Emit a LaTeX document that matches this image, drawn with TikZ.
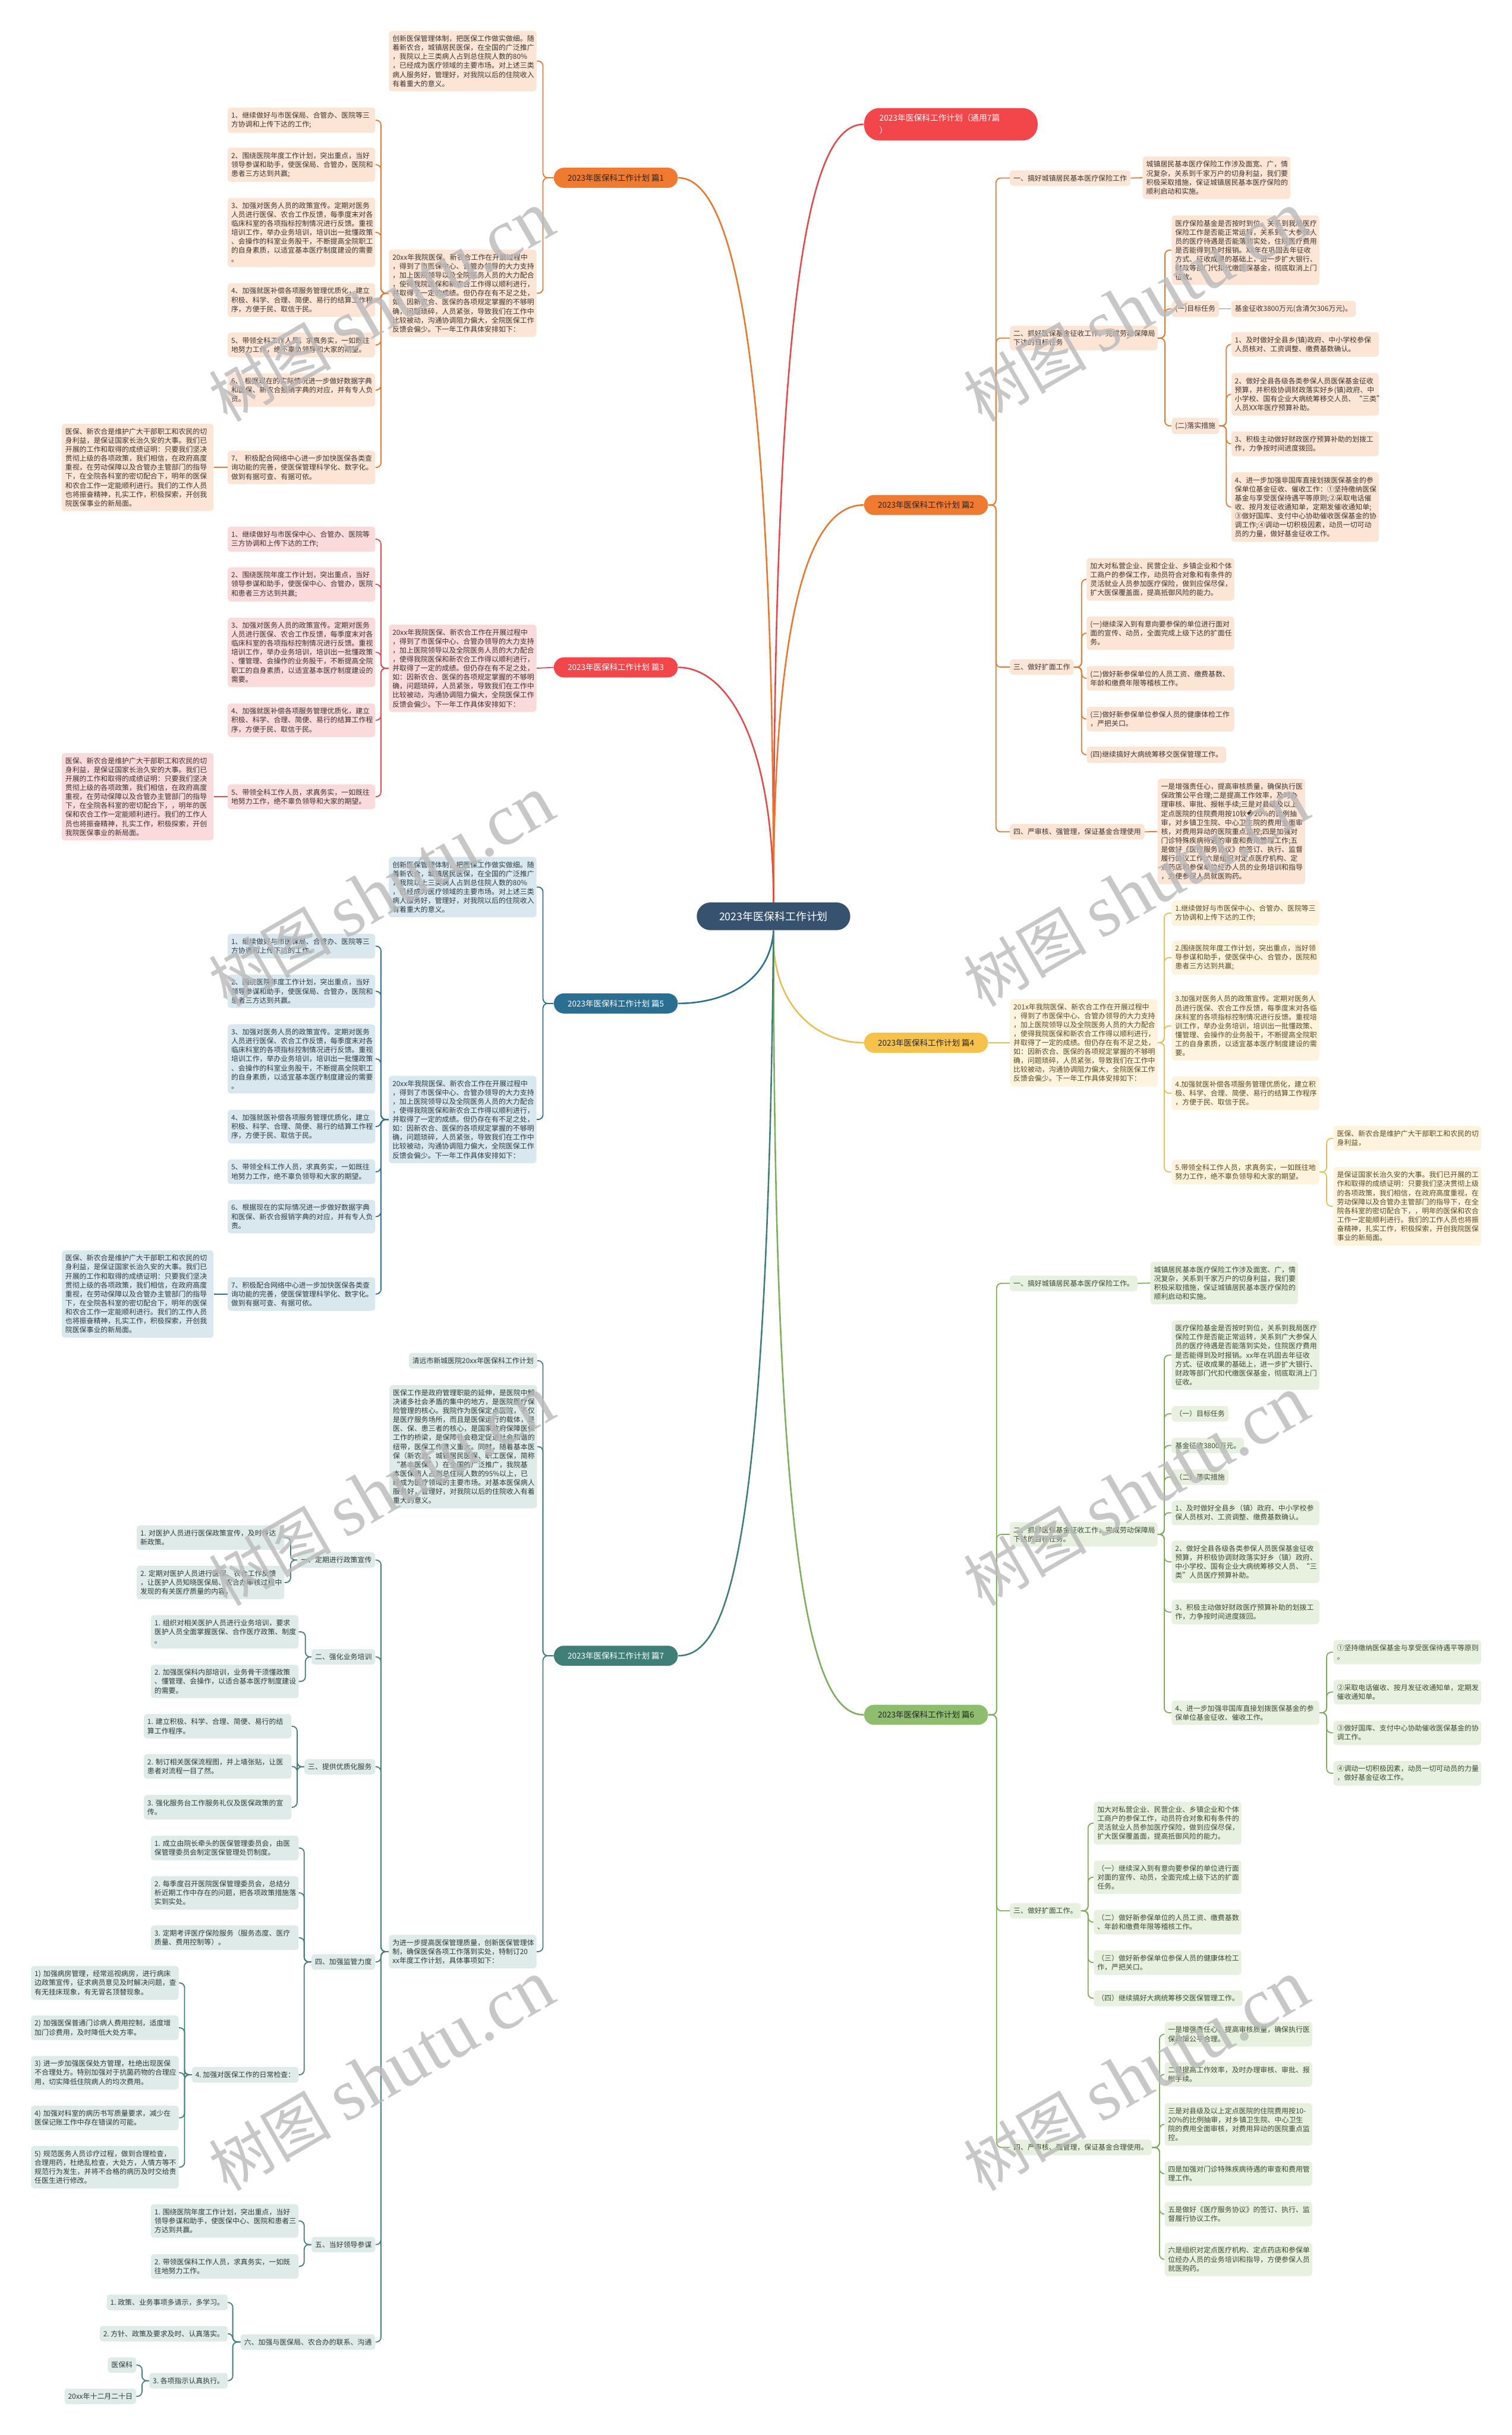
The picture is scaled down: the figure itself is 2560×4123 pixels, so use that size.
\documentclass[tikz,border=0pt]{standalone}
\usepackage{fontspec}
\setmainfont{Noto Sans CJK SC}
\newfontfamily\wmlat{Liberation Serif}
\newfontfamily\dvs{DejaVu Sans}
\newcommand\lff{\fontsize{6pt}{7.6pt}\selectfont}
\newcommand\brf{\fontsize{6.8pt}{8pt}\selectfont}
\newcommand\tyf{\fontsize{6.9pt}{10.5pt}\selectfont}
\newcommand\cenf{\fontsize{9pt}{10pt}\selectfont}
\definecolor{cen}{HTML}{37526F}
\definecolor{oM}{HTML}{EF7A30}
\definecolor{oLn}{HTML}{E8772C}
\definecolor{oLf}{HTML}{FDE5D6}
\definecolor{oTx}{HTML}{3A3530}
\definecolor{rM}{HTML}{F2464B}
\definecolor{rLn}{HTML}{E5484B}
\definecolor{rLf}{HTML}{FBDADB}
\definecolor{rTx}{HTML}{3A3232}
\definecolor{bM}{HTML}{2A6E92}
\definecolor{bLf}{HTML}{D9E7EF}
\definecolor{bTx}{HTML}{2F3A42}
\definecolor{tM}{HTML}{3F7F78}
\definecolor{tLf}{HTML}{DEEBE8}
\definecolor{tTx}{HTML}{2F3A38}
\definecolor{yM}{HTML}{F6C24B}
\definecolor{yLn}{HTML}{E9BE52}
\definecolor{yLf}{HTML}{FEF3DC}
\definecolor{yTx}{HTML}{5A4A22}
\definecolor{gM}{HTML}{8EBE6D}
\definecolor{gLn}{HTML}{7DAE5B}
\definecolor{gLf}{HTML}{E8F1E0}
\definecolor{gTx}{HTML}{3B4A30}
\newcommand\txtA{创新医保管理体制，把医保工作做实做细。随\\着新农合，城镇居民医保，在全国的广泛推广\\，我院以上三类病人占到总住院人数的80\%\\，已经成为医疗领域的主要市场。对上述三类\\病人服务好，管理好，对我院以后的住院收入\\有着重大的意义。}
\newcommand\txtB{20xx年我院医保、新农合工作在开展过程中\\，得到了市医保中心、合管办领导的大力支持\\，加上医院领导以及全院医务人员的大力配合\\，使得我院医保和新农合工作得以顺利进行，\\并取得了一定的成绩。但仍存在有不足之处，\\如：因新农合、医保的各项规定掌握的不够明\\确，问题琐碎，人员紧张，导致我们在工作中\\比较被动，沟通协调阻力偏大，全院医保工作\\反馈会偏少。下一年工作具体安排如下：}
\newcommand\txtD{医保、新农合是维护广大干部职工和农民的切\\身利益，是保证国家长治久安的大事。我们已\\开展的工作和取得的成绩证明：只要我们坚决\\贯彻上级的各项政策，我们相信，在政府高度\\重视，在劳动保障以及合管办主管部门的指导\\下，在全院各科室的密切配合下，明年的医保\\和农合工作一定能顺利进行。我们的工作人员\\也将振奋精神，扎实工作，积极探索，开创我\\院医保事业的新局面。}
\tikzset{
  leafbase/.style={rounded corners=2.5pt, inner xsep=3pt, inner ysep=3.75pt, align=left, font=\lff},
  oL/.style={leafbase, fill=oLf, text=oTx},
  rL/.style={leafbase, fill=rLf, text=rTx},
  bL/.style={leafbase, fill=bLf, text=bTx},
  tL/.style={leafbase, fill=tLf, text=tTx},
  yL/.style={leafbase, fill=yLf, text=yTx},
  gL/.style={leafbase, fill=gLf, text=gTx},
  tw/.style={text width=119pt},
  twd/.style={text width=122.5pt},
  mainbr/.style={rounded corners=8.5pt, minimum height=17pt, minimum width=105pt, inner xsep=6pt, font=\brf},
  oC/.style={draw=oLn, line width=0.9pt, rounded corners=4pt},
  rC/.style={draw=rLn, line width=0.9pt, rounded corners=4pt},
  bC/.style={draw=bM, line width=0.9pt, rounded corners=4pt},
  tC/.style={draw=tM, line width=0.9pt, rounded corners=4pt},
  yC/.style={draw=yLn, line width=0.9pt, rounded corners=4pt},
  gC/.style={draw=gLn, line width=0.9pt, rounded corners=4pt},
  thick line/.style={line width=1.3pt},
  wm/.style={text=gray!55, opacity=0.8, rotate=30, inner sep=0pt}
}
\begin{document}
\begin{tikzpicture}[x=0.5pt,y=-0.5pt]
\useasboundingbox (0,0) rectangle (2560,4123);
\fill[white] (0,0) rectangle (2560,4123);

% ---------------- central
\node[fill=cen, text=white, rounded corners=11.75pt, minimum width=130pt, minimum height=23.5pt, font=\cenf] (C) at (1310,1551.5) {2023年医保科工作计划};

% ---------------- branch heads
\node[mainbr, fill=oM, text=black!85] (P1) at (1043,301) {2023年医保科工作计划 篇1};
\node[mainbr, fill=rM, text=white] (P3) at (1043,1130) {2023年医保科工作计划 篇3};
\node[mainbr, fill=bM, text=white] (P5) at (1043,1699) {2023年医保科工作计划 篇5};
\node[mainbr, fill=tM, text=white] (P7) at (1043,2803.5) {2023年医保科工作计划 篇7};
\node[fill=rM, text=white, rounded corners=13pt, minimum height=27.5pt, inner xsep=13pt, inner ysep=4pt, text width=121pt, align=left, font=\tyf, anchor=west] (T) at (1463,210.5) {2023年医保科工作计划（通用7篇\\）};
\node[mainbr, fill=oM, text=black!85, anchor=west] (P2) at (1463,855) {2023年医保科工作计划 篇2};
\node[mainbr, fill=yM, text=black!85, anchor=west] (P4) at (1463,1765.5) {2023年医保科工作计划 篇4};
\node[mainbr, fill=gM, text=black!85, anchor=west] (P6) at (1463,2903.5) {2023年医保科工作计划 篇6};

% ---------------- 篇1
\node[oL,tw,anchor=east] (a1) at (909,103.5) {\txtA};
\node[oL,tw,anchor=east] (b1) at (909,496.5) {\txtB};
\node[oL,tw,anchor=east] (c11) at (636,203.5) {1、继续做好与市医保局、合管办、医院等三\\方协调和上传下达的工作;};
\node[oL,tw,anchor=east] (c12) at (636,279) {2、围绕医院年度工作计划，突出重点，当好\\领导参谋和助手，使医保局、合管办，医院和\\患者三方达到共赢;};
\node[oL,tw,anchor=east] (c13) at (636,393.5) {3、加强对医务人员的政策宣传。定期对医务\\人员进行医保、农合工作反馈，每季度末对各\\临床科室的各项指标控制情况进行反馈。重视\\培训工作，举办业务培训，培训出一批懂政策\\、会操作的科室业务股干，不断提高全院职工\\的自身素质，以适宜基本医疗制度建设的需要\\。};
\node[oL,tw,anchor=east] (c14) at (636,508) {4、加强就医补偿各项服务管理优质化，建立\\积极、科学、合理、简便、易行的结算工作程\\序，方便于民、取信于民。};
\node[oL,tw,anchor=east] (c15) at (636,584) {5、带领全科工作人员，求真务实，一如既往\\地努力工作，绝不辜负领导和大家的期望。};
\node[oL,tw,anchor=east] (c16) at (636,660.5) {6、~根据现在的实际情况进一步做好数据字典\\和医保、新农合报销字典的对应，并有专人负\\责。};
\node[oL,tw,anchor=east] (c17) at (636,791.5) {7、~积极配合网络中心进一步加快医保各类查\\询功能的完善，使医保管理科学化、数字化。\\做到有据可查、有据可依。};
\node[oL,twd,anchor=east] (d1) at (362,791.5) {\txtD};

% ---------------- 篇3
\node[rL,tw,anchor=east] (b3) at (909,1131.5) {\txtB};
\node[rL,tw,anchor=east] (c31) at (636,913) {1、继续做好与市医保中心、合管办、医院等\\三方协调和上传下达的工作;};
\node[rL,tw,anchor=east] (c32) at (636,989.5) {2、围绕医院年度工作计划，突出重点，当好\\领导参谋和助手，使医保中心、合管办，医院\\和患者三方达到共赢;};
\node[rL,tw,anchor=east] (c33) at (636,1104.5) {3、加强对医务人员的政策宣传。定期对医务\\人员进行医保、农合工作反馈，每季度末对各\\临床科室的各项指标控制情况进行反馈。重视\\培训工作，举办业务培训，培训出一批懂政策\\、懂管理、会操作的业务股干，不断提高全院\\职工的自身素质，以适宜基本医疗制度建设的\\需要。};
\node[rL,tw,anchor=east] (c34) at (636,1219.5) {4、加强就医补偿各项服务管理优质化，建立\\积极、科学、合理、简便、易行的结算工作程\\序，方便于民、取信于民。};
\node[rL,tw,anchor=east] (c35) at (636,1349) {5、带领全科工作人员，求真务实，一如既往\\地努力工作，绝不辜负领导和大家的期望。};
\node[rL,twd,anchor=east] (d3) at (362,1349) {医保、新农合是维护广大干部职工和农民的切\\身利益，是保证国家长治久安的大事。我们已\\开展的工作和取得的成绩证明：只要我们坚决\\贯彻上级的各项政策，我们相信，在政府高度\\重视，在劳动保障以及合管办主管部门的指导\\下，在全院各科室的密切配合下，，明年的医\\保和农合工作一定能顺利进行。我们的工作人\\员也将振奋精神，扎实工作，积极探索，开创\\我院医保事业的新局面。};

% ---------------- 篇5
\node[bL,tw,anchor=east] (a5) at (909,1502) {\txtA};
\node[bL,tw,anchor=east] (b5) at (909,1895.5) {\txtB};
\node[bL,tw,anchor=east] (c51) at (636,1602) {1、继续做好与市医保局、合管办、医院等三\\方协调和上传下达的工作。};
\node[bL,tw,anchor=east] (c52) at (636,1678.5) {2、围绕医院年度工作计划，突出重点，当好\\领导参谋和助手，使医保局、合管办，医院和\\患者三方达到共赢。};
\node[bL,tw,anchor=east] (c53) at (636,1793) {3、加强对医务人员的政策宣传。定期对医务\\人员进行医保、农合工作反馈，每季度末对各\\临床科室的各项指标控制情况进行反馈。重视\\培训工作，举办业务培训，培训出一批懂政策\\、会操作的科室业务股干，不断提高全院职工\\的自身素质，以适宜基本医疗制度建设的需要\\。};
\node[bL,tw,anchor=east] (c54) at (636,1907.5) {4、加强就医补偿各项服务管理优质化，建立\\积极、科学、合理、简便、易行的结算工作程\\序，方便于民、取信于民。};
\node[bL,tw,anchor=east] (c55) at (636,1984) {5、带领全科工作人员，求真务实，一如既往\\地努力工作，绝不辜负领导和大家的期望。};
\node[bL,tw,anchor=east] (c56) at (636,2060) {6、根据现在的实际情况进一步做好数据字典\\和医保、新农合报销字典的对应，并有专人负\\责。};
\node[bL,tw,anchor=east] (c57) at (636,2191) {7、积极配合网络中心进一步加快医保各类查\\询功能的完善，使医保管理科学化、数字化。\\做到有据可查、有据可依。};
\node[bL,twd,anchor=east] (d5) at (362,2191) {\txtD};

% ---------------- 篇7
\node[tL,anchor=east] (a7) at (910,2304) {清远市新城医院20xx年医保科工作计划};
\node[tL,tw,anchor=east] (b7) at (910,2449.5) {医保工作是政府管理职能的延伸，是医院中解\\决诸多社会矛盾的集中的地方，是医院医疗保\\险管理的核心。我院作为医保定点医院，不仅\\是医疗服务场所，而且是医保运行的载体，是\\医、保、患三者的核心，是国家政府保障医保\\工作的桥梁，是保障社会稳定促进社会和谐的\\纽带，医保工作意义重大。同时，随着基本医\\保（新农合、城镇居民医保、职工医保，简称\\“基本医保”）在全国的广泛推广，我院基\\本医保病人占到总住院人数的95\%以上，已\\经成为医疗领域的主要市场。对基本医保病人\\服务好，管理好，对我院以后的住院收入有着\\重大的意义。};
\node[tL,tw,anchor=east] (c7) at (909,3304.5) {为进一步提高医保管理质量，创新医保管理体\\制，确保医保各项工作落到实处，特制订20\\xx年度工作计划，具体事项如下：};
\node[tL,anchor=east] (s1) at (636,2641.5) {一、定期进行政策宣传};
\node[tL,tw,anchor=east] (s11) at (482,2603.5) {1.~对医护人员进行医保政策宣传，及时传达\\新政策。};
\node[tL,tw,anchor=east] (s12) at (482,2679.5) {2.~定期对医护人员进行医保、农合工作反馈\\，让医护人员知晓医保局、农合办审核过程中\\发现的有关医疗质量的内容。};
\node[tL,anchor=east] (s2) at (636,2805.5) {二、强化业务培训};
\node[tL,tw,anchor=east] (s21) at (506,2763) {1.~组织对相关医护人员进行业务培训，要求\\医护人员全面掌握医保、合作医疗政策、制度\\。};
\node[tL,tw,anchor=east] (s22) at (506,2847) {2.~加强医保科内部培训，业务骨干须懂政策\\、懂管理、会操作，以适合基本医疗制度建设\\的需要。};
\node[tL,anchor=east] (s3) at (636,2991.5) {三、提供优质化服务};
\node[tL,tw,anchor=east] (s31) at (494,2923) {1.~建立积极、科学、合理、简便、易行的结\\算工作程序。};
\node[tL,tw,anchor=east] (s32) at (494,2991) {2.~制订相关医保流程图，并上墙张贴，让医\\患者对流程一目了然。};
\node[tL,tw,anchor=east] (s33) at (494,3060) {3.~强化服务台工作服务礼仪及医保政策的宣\\传。};
\node[tL,anchor=east] (s4) at (636,3322) {四、加强监管力度};
\node[tL,tw,anchor=east] (s41) at (506,3129) {1.~成立由院长牵头的医保管理委员会，由医\\保管理委员会制定医保管理处罚制度。};
\node[tL,tw,anchor=east] (s42) at (506,3205) {2.~每季度召开医院医保管理委员会，总结分\\析近期工作中存在的问题，把各项政策措施落\\实到实处。};
\node[tL,tw,anchor=east] (s43) at (506,3281) {3.~定期考评医疗保险服务（服务态度、医疗\\质量、费用控制等）。};
\node[tL,anchor=east] (s44) at (506,3513) {4.~加强对医保工作的日常检查：};
\node[tL,tw,anchor=east] (q1) at (303,3357.5) {1)~加强病房管理，经常巡视病房，进行病床\\边政策宣传，征求病员意见及时解决问题，查\\有无挂床现象，有无冒名顶替现象。};
\node[tL,tw,anchor=east] (q2) at (303,3433.5) {2)~加强医保普通门诊病人费用控制，适度增\\加门诊费用，及时降低大处方率。};
\node[tL,tw,anchor=east] (q3) at (303,3509.5) {3)~进一步加强医保处方管理，杜绝出现医保\\不合理处方。特别加强对于抗菌药物的合理应\\用，切实降低住院病人的均次费用。};
\node[tL,tw,anchor=east] (q4) at (303,3586) {4)~加强对科室的病历书写质量要求，减少在\\医保记账工作中存在错误的可能。};
\node[tL,tw,anchor=east] (q5) at (303,3669.5) {5)~规范医务人员诊疗过程，做到合理检查，\\合理用药，杜绝乱检查，大处方，人情方等不\\规范行为发生，并将不合格的病历及时交给责\\任医生进行修改。};
\node[tL,anchor=east] (s5) at (636,3800.5) {五、当好领导参谋};
\node[tL,tw,anchor=east] (s51) at (506,3760.5) {1.~围绕医院年度工作计划，突出重点，当好\\领导参谋和助手，使医保中心、医院和患者三\\方达到共赢。};
\node[tL,tw,anchor=east] (s52) at (506,3837.5) {2.~带领医保科工作人员，求真务实，一如既\\往地努力工作。};
\node[tL,anchor=east] (s6) at (636,3965.5) {六、加强与医保局、农合办的联系、沟通};
\node[tL,anchor=east] (s61) at (386,3898.5) {1.~政策、业务事项多请示，多学习。};
\node[tL,anchor=east] (s62) at (386,3951.5) {2.~方针、政策及要求及时、认真落实。};
\node[tL,anchor=east] (s63) at (386,4031) {3.~各项指示认真执行。};
\node[tL,anchor=east] (m1) at (231,4004.5) {医保科};
\node[tL,anchor=east] (m2) at (231,4057.5) {20xx年十二月二十日};

% ---------------- 篇2
\node[oL,anchor=west] (t21) at (1710,301.5) {一、搞好城镇居民基本医疗保险工作};
\node[oL,tw,anchor=west] (t21c) at (1935,301) {城镇居民基本医疗保险工作涉及面宽、广，情\\况复杂，关系到千家万户的切身利益，我们要\\积极采取措施，保证城镇居民基本医疗保险的\\顺利启动和实施。};
\node[oL,tw,anchor=west] (t22) at (1710,572.5) {二、抓好医保基金征收工作，完成劳动保障局\\下达的目标任务};
\node[oL,tw,anchor=west] (t22a) at (1984,423.5) {医疗保险基金是否按时到位，关系到我局医疗\\保险工作是否能正常运转，关系到广大参保人\\员的医疗待遇是否能落到实处，住院医疗费用\\是否能得到及时报销。XX年在巩固去年征收\\方式、征收成果的基础上，进一步扩大银行、\\财政等部门代扣代缴医保基金，彻底取消上门\\征收。};
\node[oL,anchor=west] (t22b) at (1984,523) {(一)目标任务};
\node[oL,anchor=west] (t22bc) at (2085,523) {基金征收3800万元(含清欠306万元)。};
\node[oL,anchor=west] (t22c) at (1984,721) {(二)落实措施};
\node[oL,tw,anchor=west] (t22c1) at (2085,583) {1、及时做好全县乡(镇)政府、中小学校参保\\人员核对、工资调整、缴费基数确认。};
\node[oL,tw,anchor=west] (t22c2) at (2085,667.5) {2、做好全县各级各类参保人员医保基金征收\\预算，并积极协调财政落实好乡(镇)政府、中\\小学校、国有企业大病统筹移交人员、“三类”\\人员XX年医疗预算补助。};
\node[oL,tw,anchor=west] (t22c3) at (2085,751.5) {3、积极主动做好财政医疗预算补助的划拨工\\作，力争按时间进度拨回。};
\node[oL,tw,anchor=west] (t22c4) at (2085,858.5) {4、进一步加强非国库直接划拨医保基金的参\\保单位基金征收、催收工作：①坚持缴纳医保\\基金与享受医保待遇平等原则;②采取电话催\\收、按月发征收通知单，定期发催收通知单;\\③做好国库、支付中心协助催收医保基金的协\\调工作;④调动一切积极因素，动员一切可动\\员的力量，做好基金征收工作。};
\node[oL,anchor=west] (t23) at (1710,1129.5) {三、做好扩面工作};
\node[oL,tw,anchor=west] (t23a) at (1840,981) {加大对私营企业、民营企业、乡镇企业和个体\\工商户的参保工作，动员符合对象和有条件的\\灵活就业人员参加医疗保险，做到应保尽保，\\扩大医保覆盖面，提高抵御风险的能力。};
\node[oL,tw,anchor=west] (t23b) at (1840,1072) {(一)继续深入到有意向要参保的单位进行面对\\面的宣传、动员，全面完成上级下达的扩面任\\务。};
\node[oL,tw,anchor=west] (t23c) at (1840,1148.5) {(二)做好新参保单位的人员工资、缴费基数、\\年龄和缴费年限等稽核工作。};
\node[oL,tw,anchor=west] (t23d) at (1840,1217.5) {(三)做好新参保单位参保人员的健康体检工作\\，严把关口。};
\node[oL,anchor=west] (t23e) at (1840,1278) {(四)继续搞好大病统筹移交医保管理工作。};
\node[oL,anchor=west] (t24) at (1710,1408.5) {四、严审核、强管理，保证基金合理使用};
\node[oL,tw,anchor=west] (t24c) at (1960,1408) {一是增强责任心，提高审核质量，确保执行医\\保政策公平合理;二是提高工作效率，及时办\\理审核、审批、报帐手续;三是对县级及以上\\定点医院的住院费用按10钬{\dvs\char"FFFD}20\%的比例抽\\审，对乡镇卫生院、中心卫生院的费用全面审\\核，对费用异动的医院重点监控;四是加强对\\门诊特殊疾病待遇的审查和费用管理工作;五\\是做好《医疗服务协议》的签订、执行、监督\\履行协议工作;六是组织对定点医疗机构、定\\点药店和参保单位经办人员的业务培训和指导\\，方便参保人员就医购药。};

% ---------------- 篇4
\node[yL,tw,anchor=west] (b4) at (1710,1765.5) {201x年我院医保、新农合工作在开展过程中\\，得到了市医保中心、合管办领导的大力支持\\，加上医院领导以及全院医务人员的大力配合\\，使得我院医保和新农合工作得以顺利进行，\\并取得了一定的成绩。但仍存在有不足之处，\\如：因新农合、医保的各项规定掌握的不够明\\确，问题琐碎，人员紧张，导致我们在工作中\\比较被动，沟通协调阻力偏大，全院医保工作\\反馈会偏少。下一年工作具体安排如下：};
\node[yL,tw,anchor=west] (c41) at (1984,1546) {1.继续做好与市医保中心、合管办、医院等三\\方协调和上传下达的工作;};
\node[yL,tw,anchor=west] (c42) at (1984,1621.5) {2.围绕医院年度工作计划，突出重点，当好领\\导参谋和助手，使医保中心、合管办，医院和\\患者三方达到共赢;};
\node[yL,tw,anchor=west] (c43) at (1984,1737) {3.加强对医务人员的政策宣传。定期对医务人\\员进行医保、农合工作反馈，每季度末对各临\\床科室的各项指标控制情况进行反馈。重视培\\训工作，举办业务培训，培训出一批懂政策、\\懂管理、会操作的业务股干，不断提高全院职\\工的自身素质，以适宜基本医疗制度建设的需\\要。};
\node[yL,tw,anchor=west] (c44) at (1984,1851) {4.加强就医补偿各项服务管理优质化，建立积\\极、科学、合理、简便、易行的结算工作程序\\，方便于民、取信于民。};
\node[yL,tw,anchor=west] (c45) at (1984,1984.5) {5.带领全科工作人员，求真务实，一如既往地\\努力工作，绝不辜负领导和大家的期望。};
\node[yL,tw,anchor=west] (d4a) at (2258,1927.5) {医保、新农合是维护广大干部职工和农民的切\\身利益，};
\node[yL,tw,anchor=west] (d4b) at (2258,2042.5) {是保证国家长治久安的大事。我们已开展的工\\作和取得的成绩证明：只要我们坚决贯彻上级\\的各项政策，我们相信，在政府高度重视，在\\劳动保障以及合管办主管部门的指导下，在全\\院各科室的密切配合下，，明年的医保和农合\\工作一定能顺利进行。我们的工作人员也将振\\奋精神，扎实工作，积极探索，开创我院医保\\事业的新局面。};

% ---------------- 篇6
\node[gL,anchor=west] (g1) at (1710,2173) {一、搞好城镇居民基本医疗保险工作。};
\node[gL,tw,anchor=west] (g1c) at (1948,2172.5) {城镇居民基本医疗保险工作涉及面宽、广，情\\况复杂，关系到千家万户的切身利益，我们要\\积极采取措施，保证城镇居民基本医疗保险的\\顺利启动和实施。};
\node[gL,tw,anchor=west] (g2) at (1710,2598) {二、抓好医保基金征收工作，完成劳动保障局\\下达的目标任务。};
\node[gL,tw,anchor=west] (g2a) at (1984,2294.5) {医疗保险基金是否按时到位，关系到我局医疗\\保险工作是否能正常运转，关系到广大参保人\\员的医疗待遇是否能落到实处，住院医疗费用\\是否能得到及时报销。xx年在巩固去年征收\\方式、征收成果的基础上，进一步扩大银行、\\财政等部门代扣代缴医保基金，彻底取消上门\\征收。};
\node[gL,anchor=west] (g2b) at (1984,2394) {（一）目标任务};
\node[gL,anchor=west] (g2c) at (1984,2447.5) {基金征收3800万元。};
\node[gL,anchor=west] (g2d) at (1984,2501) {（二）落实措施};
\node[gL,tw,anchor=west] (g2e) at (1984,2561.5) {1、及时做好全县乡（镇）政府、中小学校参\\保人员核对、工资调整、缴费基数确认。};
\node[gL,tw,anchor=west] (g2f) at (1984,2644.5) {2、做好全县各级各类参保人员医保基金征收\\预算，并积极协调财政落实好乡（镇）政府、\\中小学校、国有企业大病统筹移交人员、“三\\类”人员医疗预算补助。};
\node[gL,tw,anchor=west] (g2g) at (1984,2729.5) {3、积极主动做好财政医疗预算补助的划拨工\\作，力争按时间进度拨回。};
\node[gL,tw,anchor=west] (g2h) at (1984,2900) {4、进一步加强非国库直接划拨医保基金的参\\保单位基金征收、催收工作。};
\node[gL,tw,anchor=west] (h1) at (2258,2797.5) {①坚持缴纳医保基金与享受医保待遇平等原则\\。};
\node[gL,tw,anchor=west] (h2) at (2258,2865) {②采取电话催收、按月发征收通知单，定期发\\催收通知单。};
\node[gL,tw,anchor=west] (h3) at (2258,2934) {③做好国库、支付中心协助催收医保基金的协\\调工作。};
\node[gL,tw,anchor=west] (h4) at (2258,3002.5) {④调动一切积极因素，动员一切可动员的力量\\，做好基金征收工作。};
\node[gL,anchor=west] (g3) at (1710,3235.5) {三、做好扩面工作。};
\node[gL,tw,anchor=west] (g3a) at (1852,3087) {加大对私营企业、民营企业、乡镇企业和个体\\工商户的参保工作，动员符合对象和有条件的\\灵活就业人员参加医疗保险，做到应保尽保，\\扩大医保覆盖面，提高抵御风险的能力。};
\node[gL,tw,anchor=west] (g3b) at (1852,3178.5) {（一）继续深入到有意向要参保的单位进行面\\对面的宣传、动员，全面完成上级下达的扩面\\任务。};
\node[gL,tw,anchor=west] (g3c) at (1852,3254.5) {（二）做好新参保单位的人员工资、缴费基数\\、年龄和缴费年限等稽核工作。};
\node[gL,tw,anchor=west] (g3d) at (1852,3323) {（三）做好新参保单位参保人员的健康体检工\\作，严把关口。};
\node[gL,anchor=west] (g3e) at (1852,3383.5) {（四）继续搞好大病统筹移交医保管理工作。};
\node[gL,anchor=west] (g4) at (1710,3636) {四、严审核、强管理，保证基金合理使用。};
\node[gL,tw,anchor=west] (g4a) at (1972,3444.5) {一是增强责任心，提高审核质量，确保执行医\\保政策公平合理。};
\node[gL,tw,anchor=west] (g4b) at (1972,3512.5) {二是提高工作效率，及时办理审核、审批、报\\帐手续。};
\node[gL,tw,anchor=west] (g4c) at (1972,3597) {三是对县级及以上定点医院的住院费用按10-\\20\%的比例抽审，对乡镇卫生院、中心卫生\\院的费用全面审核，对费用异动的医院重点监\\控。};
\node[gL,tw,anchor=west] (g4d) at (1972,3680.5) {四是加强对门诊特殊疾病待遇的审查和费用管\\理工作。};
\node[gL,tw,anchor=west] (g4e) at (1972,3749) {五是做好《医疗服务协议》的签订、执行、监\\督履行协议工作。};
\node[gL,tw,anchor=west] (g4f) at (1972,3825.5) {六是组织对定点医疗机构、定点药店和参保单\\位经办人员的业务培训和指导，方便参保人员\\就医购药。};

% ================= connectors
% central curves
\draw[rC,thick line] (C.north) .. controls (1310,420) and (1380,210.5) .. (T.west);
\draw[oC,thick line] (C.north) .. controls (1310,520) and (1230,301) .. (P1.east);
\draw[oC,thick line] (C.north) .. controls (1310,1000) and (1380,855) .. (P2.west);
\draw[rC,thick line] (C.north) .. controls (1310,1250) and (1230,1130) .. (P3.east);
\draw[bC,thick line] (C.south) .. controls (1305,1660) and (1230,1699) .. (P5.east);
\draw[yC,thick line] (C.south) .. controls (1305,1700) and (1380,1765.5) .. (P4.west);
\draw[gC,thick line] (C.south) .. controls (1310,2700) and (1380,2903.5) .. (P6.west);
\draw[tC,thick line] (C.south) .. controls (1300,2650) and (1230,2803.5) .. (P7.east);

% 篇1
\foreach \n in {a1,b1} \draw[oC] (P1.west) -- ++(-18,0) |- (\n.east);
\foreach \n in {c11,c12,c13,c14,c15,c16,c17} \draw[oC] (b1.west) -- ++(-13,0) |- (\n.east);
\draw[oC] (c17.west) -- (d1.east);
% 篇3
\draw[rC] (P3.west) -- (b3.east);
\foreach \n in {c31,c32,c33,c34,c35} \draw[rC] (b3.west) -- ++(-13,0) |- (\n.east);
\draw[rC] (c35.west) -- (d3.east);
% 篇5
\foreach \n in {a5,b5} \draw[bC] (P5.west) -- ++(-18,0) |- (\n.east);
\foreach \n in {c51,c52,c53,c54,c55,c56,c57} \draw[bC] (b5.west) -- ++(-13,0) |- (\n.east);
\draw[bC] (c57.west) -- (d5.east);
% 篇7
\foreach \n in {a7,b7,c7} \draw[tC] (P7.west) -- ++(-18,0) |- (\n.east);
\foreach \n in {s1,s2,s3,s4,s5,s6} \draw[tC] (c7.west) -- ++(-13,0) |- (\n.east);
\foreach \n in {s11,s12} \draw[tC] (s1.west) -- ++(-11,0) |- (\n.east);
\foreach \n in {s21,s22} \draw[tC] (s2.west) -- ++(-10,0) |- (\n.east);
\foreach \n in {s31,s32,s33} \draw[tC] (s3.west) -- ++(-12,0) |- (\n.east);
\foreach \n in {s41,s42,s43,s44} \draw[tC] (s4.west) -- ++(-12,0) |- (\n.east);
\foreach \n in {q1,q2,q3,q4,q5} \draw[tC] (s44.west) -- ++(-12,0) |- (\n.east);
\foreach \n in {s51,s52} \draw[tC] (s5.west) -- ++(-12,0) |- (\n.east);
\foreach \n in {s61,s62,s63} \draw[tC] (s6.west) -- ++(-13,0) |- (\n.east);
\foreach \n in {m1,m2} \draw[tC] (s63.west) -- ++(-12,0) |- (\n.east);
% 篇2
\foreach \n in {t21,t22,t23,t24} \draw[oC] (P2.east) -- ++(13,0) |- (\n.west);
\draw[oC] (t21.east) -- (t21c.west);
\foreach \n in {t22a,t22b,t22c} \draw[oC] (t22.east) -- ++(12,0) |- (\n.west);
\draw[oC] (t22b.east) -- (t22bc.west);
\foreach \n in {t22c1,t22c2,t22c3,t22c4} \draw[oC] (t22c.east) -- ++(12,0) |- (\n.west);
\foreach \n in {t23a,t23b,t23c,t23d,t23e} \draw[oC] (t23.east) -- ++(13,0) |- (\n.west);
\draw[oC] (t24.east) -- (t24c.west);
% 篇4
\draw[yC] (P4.east) -- (b4.west);
\foreach \n in {c41,c42,c43,c44,c45} \draw[yC] (b4.east) -- ++(11,0) |- (\n.west);
\foreach \n in {d4a,d4b} \draw[yC] (c45.east) -- ++(12,0) |- (\n.west);
% 篇6
\foreach \n in {g1,g2,g3,g4} \draw[gC] (P6.east) -- ++(14,0) |- (\n.west);
\draw[gC] (g1.east) -- (g1c.west);
\foreach \n in {g2a,g2b,g2c,g2d,g2e,g2f,g2g,g2h} \draw[gC] (g2.east) -- ++(11,0) |- (\n.west);
\foreach \n in {h1,h2,h3,h4} \draw[gC] (g2h.east) -- ++(12,0) |- (\n.west);
\foreach \n in {g3a,g3b,g3c,g3d,g3e} \draw[gC] (g3.east) -- ++(12,0) |- (\n.west);
\foreach \n in {g4a,g4b,g4c,g4d,g4e,g4f} \draw[gC] (g4.east) -- ++(13,0) |- (\n.west);

% ================= watermarks
\foreach \wx/\wy/\k in {646/520/1,646/1510/2,646/2525/3,646/3515/4,1925/520/5,1925/1510/6,1925/2525/7,1925/3515/8}
  \node[wm] (w\k) at (\wx,\wy) {\fontsize{52pt}{52pt}\selectfont 树图\hspace{12pt}{\wmlat\fontsize{62pt}{62pt}\selectfont shutu.cn}};
\end{tikzpicture}
\end{document}
